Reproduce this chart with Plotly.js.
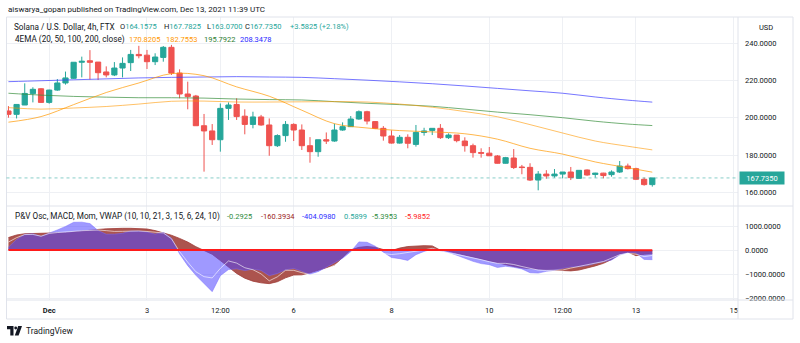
<!DOCTYPE html>
<html><head><meta charset="utf-8">
<script src="https://cdn.plot.ly/plotly-3.0.1.min.js"></script>
<style>html,body{margin:0;padding:0;background:#fff;overflow:hidden}#chart{width:800px;height:343px}</style>
</head><body><div id="chart"></div>
<script>
// ---------- DATA ----------
const times = [
'2021-11-30 04:00','2021-11-30 08:00','2021-11-30 12:00','2021-11-30 16:00','2021-11-30 20:00',
'2021-12-01 00:00','2021-12-01 04:00','2021-12-01 08:00','2021-12-01 12:00','2021-12-01 16:00','2021-12-01 20:00',
'2021-12-02 00:00','2021-12-02 04:00','2021-12-02 08:00','2021-12-02 12:00','2021-12-02 16:00','2021-12-02 20:00',
'2021-12-03 00:00','2021-12-03 04:00','2021-12-03 08:00','2021-12-03 12:00','2021-12-03 16:00','2021-12-03 20:00',
'2021-12-04 00:00','2021-12-04 04:00','2021-12-04 08:00','2021-12-04 12:00','2021-12-04 16:00','2021-12-04 20:00',
'2021-12-05 00:00','2021-12-05 04:00','2021-12-05 08:00','2021-12-05 12:00','2021-12-05 16:00','2021-12-05 20:00',
'2021-12-06 00:00','2021-12-06 04:00','2021-12-06 08:00','2021-12-06 12:00','2021-12-06 16:00','2021-12-06 20:00',
'2021-12-07 00:00','2021-12-07 04:00','2021-12-07 08:00','2021-12-07 12:00','2021-12-07 16:00','2021-12-07 20:00',
'2021-12-08 00:00','2021-12-08 04:00','2021-12-08 08:00','2021-12-08 12:00','2021-12-08 16:00','2021-12-08 20:00',
'2021-12-09 00:00','2021-12-09 04:00','2021-12-09 08:00','2021-12-09 12:00','2021-12-09 16:00','2021-12-09 20:00',
'2021-12-10 00:00','2021-12-10 04:00','2021-12-10 08:00','2021-12-10 12:00','2021-12-10 16:00','2021-12-10 20:00',
'2021-12-11 00:00','2021-12-11 04:00','2021-12-11 08:00','2021-12-11 12:00','2021-12-11 16:00','2021-12-11 20:00',
'2021-12-12 00:00','2021-12-12 04:00','2021-12-12 08:00','2021-12-12 12:00','2021-12-12 16:00','2021-12-12 20:00',
'2021-12-13 00:00','2021-12-13 04:00','2021-12-13 08:00'];

const open = [203.6,201.8,206.8,212.9,215.5,208.2,214.8,218.6,221.1,229.7,
230.5,229.8,224.5,222.9,226.6,229.5,233.9,233.5,230.0,232.3,
237.7,223.9,212.7,211.6,195.7,192.9,188.2,205.0,207.1,200.8,
196.4,200.4,196.1,185.0,190.4,196.4,193.4,185.0,181.8,188.2,
187.5,193.4,195.2,199.3,203.2,197.9,194.3,190.2,186.4,189.5,
185.7,192.1,193.2,194.3,189.3,190.7,187.5,185.0,181.3,181.0,
179.5,175.6,178.4,173.6,173.4,166.6,169.8,168.8,169.8,170.9,
167.5,172.0,169.6,170.3,169.5,170.9,174.1,172.7,167.0,164.1575];
const high = [206.2,207.1,218.4,216.3,215.8,215.0,220.7,224.7,229.7,232.7,
236.2,229.8,227.5,229.8,232.3,236.3,238.5,236.3,234.5,238.4,
239.0,225.9,219.3,212.2,202.0,196.6,207.6,208.2,210.4,204.5,
203.2,201.5,199.6,191.1,198.2,197.0,196.4,189.6,188.2,192.1,
196.8,197.5,200.9,203.9,203.7,198.2,195.5,193.2,190.7,191.1,
196.1,194.6,194.3,196.6,191.6,190.7,189.5,186.1,183.6,184.3,
180.0,179.0,183.2,174.7,175.6,171.4,171.9,172.5,170.9,173.6,
171.8,172.3,170.5,170.5,171.8,176.8,175.4,173.2,167.9,167.7825];
const low = [200.0,199.6,206.8,208.2,208.0,207.5,214.4,217.7,220.7,221.6,
220.5,220.2,221.6,222.3,221.6,225.0,231.8,226.1,228.2,230.0,
222.9,210.4,204.5,195.7,171.1,185.4,181.8,198.8,198.8,191.1,
194.3,195.7,179.6,184.3,187.1,187.5,182.7,175.9,179.1,185.9,
187.1,193.0,195.0,198.9,196.4,193.9,187.7,186.1,186.1,183.6,
184.5,190.4,190.7,188.6,188.6,186.8,181.8,178.6,178.6,179.6,
175.4,175.4,172.5,169.7,166.1,161.1,167.3,167.9,167.5,166.6,
167.5,168.9,167.9,167.5,168.4,170.4,172.3,166.6,163.6,163.07];
const close = [201.8,207.1,213.0,215.2,208.2,214.8,218.6,221.3,229.7,230.2,
229.7,224.1,222.9,226.6,229.1,233.9,233.2,230.0,232.5,237.7,
223.9,212.7,211.3,195.7,192.9,188.2,205.0,206.8,200.6,196.4,
200.4,196.1,185.0,190.4,196.4,193.4,185.0,181.8,188.2,187.5,
193.4,195.2,199.3,203.2,198.2,194.3,190.2,186.4,189.5,186.3,
192.1,192.9,194.3,189.3,190.7,187.7,185.0,181.3,181.0,179.6,
175.6,178.6,173.3,173.3,166.6,169.8,168.8,169.8,170.9,167.9,
171.8,169.3,170.3,169.0,170.9,174.1,172.7,167.0,164.1525,167.735];

const emaTimes = ['2021-11-30 04:00','2021-11-30 20:00','2021-12-01 12:00','2021-12-02 04:00','2021-12-02 20:00',
'2021-12-03 12:00','2021-12-04 04:00','2021-12-04 20:00','2021-12-05 12:00','2021-12-06 04:00','2021-12-06 20:00',
'2021-12-07 12:00','2021-12-08 04:00','2021-12-08 20:00','2021-12-09 12:00','2021-12-10 04:00','2021-12-10 20:00',
'2021-12-11 12:00','2021-12-12 04:00','2021-12-12 20:00','2021-12-13 08:00'];
const ema20  = [197.6,200.6,207.0,213.5,218.6,223.6,222.5,216.5,211.5,204.0,196.8,194.5,193.1,192.4,191.4,188.5,183.6,180.5,176.3,173.2,170.8205];
const ema50  = [205.4,204.6,205.2,206.0,207.3,208.8,208.9,208.4,208.4,208.5,208.6,208.4,207.3,205.6,203.3,200.5,196.3,191.8,187.5,184.7,182.7553];
const ema100 = [213.1,212.1,211.4,211.0,210.7,210.7,210.5,210.0,209.7,209.5,208.6,207.7,207.0,206.1,204.6,203.0,201.6,200.0,198.1,196.6,195.7922];
const ema200 = [219.3,219.8,220.3,220.8,221.3,221.6,221.8,222.0,221.8,221.6,220.9,220.1,219.2,218.2,217.0,215.7,214.4,213.1,211.1,209.4,208.3478];

const oscMacd = [518,626,678,694,701,708,715,722,761,807,
840,857,881,903,903,903,892,875,808,724,
615,483,331,139,-32,-179,-439,-726,-976,-1174,
-1299,-1368,-1401,-1322,-1160,-1042,-1035,-951,-857,-740,
-629,-306,4,111,146,115,18,-26,80,144,
172,181,171,-9,-51,-120,-207,-290,-370,-453,
-533,-611,-688,-747,-781,-810,-822,-838,-860,-870,
-835,-757,-663,-556,-396,-174,-89,-236,-179,-160.3934];
const oscMom = [119,436,651,676,574,690,835,982,1154,1161,
1100,810,658,661,696,792,792,746,664,733,
496,-162,-651,-1056,-1389,-1736,-1070,-816,-786,-857,
-799,-851,-1068,-979,-826,-768,-886,-1020,-903,-729,
-540,-346,-72,338,322,161,-89,-314,-360,-435,
-196,-60,40,-18,-101,-217,-350,-472,-567,-610,
-729,-676,-722,-789,-947,-963,-888,-845,-767,-708,
-694,-650,-561,-482,-417,-208,-107,-122,-393,-404.098];
const oscLine = [331,514,643,648,574,690,726,760,781,803,
817,831,807,774,778,799,792,772,744,710,
469,-67,-506,-906,-1111,-1164,-765,-456,-545,-739,
-821,-996,-1285,-1118,-845,-847,-945,-1028,-949,-799,
-632,-433,-225,-4,14,-39,-147,-189,-155,-108,
-64,3,72,-28,-120,-184,-247,-319,-403,-490,
-556,-556,-604,-688,-771,-837,-851,-857,-835,-753,
-674,-610,-546,-480,-342,-197,-139,-176,-274,-228];
const oscZero = [0,0,0,0,0,0,0,0,0,0, 0,0,0,0,0,0,0,0,0,0,
0,0,0,0,0,0,0,0,0,0, 0,0,0,0,0,0,0,0,0,0,
0,0,0,0,0,0,0,0,0,0, 0,0,0,0,0,0,0,0,0,0,
0,0,0,0,0,0,0,0,0,0, 0,0,0,0,0,0,0,0,0,-6];

const xTickVals = ['2021-12-01 00:00','2021-12-03 00:00','2021-12-04 12:00','2021-12-06 00:00','2021-12-08 00:00','2021-12-10 00:00','2021-12-11 12:00','2021-12-13 00:00','2021-12-15 00:00'];
const xTickText = ['<b>Dec</b>','3','12:00','6','8','10','12:00','13','15'];
const priceTicks = [160,180,200,220,240];
const oscTicks = [-2000,-1000,0,1000];
const oscLegendExtra = ['-0.2925','0.5899','-5.3953','-5.9852'];

// ---------- LAYOUT HELPERS ----------
const W = 800, H = 343;
const px = v => v / W;
const py = v => 1 - v / H;
const FONT = 'Roboto, "Liberation Sans", Arial, sans-serif';
const TXT = '#131722';
const TEAL = '#26a69a', RED = '#ef5350';
const gridC = '#eef0f4', frameC = '#e0e3eb';
const xd = [px(6.5), px(738)];
const xRange = ['2021-11-30 03:03', '2021-12-15 02:04'];
const n = close.length - 1;
const LF = 8.2; // legend label font size
const VF = 7.5; // legend value font size

const traces = [
  {type:'candlestick', x:times, open:open, high:high, low:low, close:close, xaxis:'x', yaxis:'y',
   whiskerwidth:0, hoverinfo:'skip',
   increasing:{line:{color:TEAL, width:1}, fillcolor:TEAL},
   decreasing:{line:{color:RED, width:1}, fillcolor:RED}},
  {type:'scatter', mode:'lines', x:emaTimes, y:ema200, xaxis:'x', yaxis:'y', line:{color:'rgba(60,60,255,0.7)', width:1, shape:'spline'}},
  {type:'scatter', mode:'lines', x:emaTimes, y:ema100, xaxis:'x', yaxis:'y', line:{color:'rgba(56,142,60,0.7)', width:1, shape:'spline'}},
  {type:'scatter', mode:'lines', x:emaTimes, y:ema50, xaxis:'x', yaxis:'y', line:{color:'rgba(255,152,0,0.6)', width:1, shape:'spline'}},
  {type:'scatter', mode:'lines', x:emaTimes, y:ema20, xaxis:'x', yaxis:'y', line:{color:'rgba(255,152,0,0.7)', width:1, shape:'spline'}},
  {type:'scatter', mode:'lines', x:times, y:oscMacd, xaxis:'x2', yaxis:'y2', fill:'tozeroy',
   fillcolor:'rgb(172,84,78)', line:{color:'rgb(160,60,55)', width:0.8}},
  {type:'scatter', mode:'lines', x:times, y:oscMom, xaxis:'x2', yaxis:'y2', fill:'tozeroy',
   fillcolor:'rgba(80,70,255,0.55)', line:{color:'rgba(120,110,255,0.6)', width:0.8}},
  {type:'scatter', mode:'lines', x:times, y:oscLine, xaxis:'x2', yaxis:'y2', line:{color:'rgba(255,255,255,0.75)', width:0.8}},
  {type:'scatter', mode:'lines', x:times, y:oscZero, xaxis:'x2', yaxis:'y2', line:{color:'#ff1a1a', width:2}}
];

function hline(y, x0, x1){ return {type:'line', xref:'paper', yref:'paper', x0:px(x0), x1:px(x1), y0:py(y), y1:py(y), line:{color:frameC, width:1}}; }
function vline(x, y0, y1){ return {type:'line', xref:'paper', yref:'paper', x0:px(x), x1:px(x), y0:py(y0), y1:py(y1), line:{color:frameC, width:1}}; }
function pathPx(pts){ return 'M' + pts.map(p => px(p[0]) + ',' + py(p[1])).join(' L') + ' Z'; }

const shapes = [
  hline(17, 6.5, 793), hline(206, 6.5, 793), hline(300, 6.5, 793), hline(319, 6.5, 793),
  vline(6.5, 17, 319), vline(738, 17, 319), vline(793, 17, 319),
  {type:'line', xref:'paper', yref:'y', x0:xd[0], x1:xd[1], y0:close[n], y1:close[n], line:{color:'rgba(38,166,154,0.55)', width:1, dash:'dot'}},
  // TradingView logo
  {type:'path', xref:'paper', yref:'paper', path:pathPx([[7,326],[13.5,326],[13.5,335.5],[10.3,335.5],[10.3,329.2],[7,329.2]]), fillcolor:TXT, line:{width:0}},
  {type:'circle', xref:'paper', yref:'paper', x0:px(14.3), x1:px(17.1), y0:py(329.4), y1:py(326.6), fillcolor:TXT, line:{width:0}},
  {type:'path', xref:'paper', yref:'paper', path:pathPx([[18.2,326],[22,326],[18.6,335.5],[14.8,335.5]]), fillcolor:TXT, line:{width:0}}
];

function ann(x, y, text, size, extra){
  return Object.assign({xref:'paper', yref:'paper', x:px(x), y:py(y), xanchor:'left', yanchor:'middle',
    text:text, showarrow:false, font:{family:FONT, size:size, color:TXT}}, extra || {});
}
const sp = (c, t) => '<span style="color:' + c + '">' + t + '</span>';
const chg = close[n] - close[n-1];
const pct = chg / close[n-1] * 100;
const sign = v => (v >= 0 ? '+' : '-') + Math.abs(v).toFixed(4);

const annotations = [
  ann(6, 10, 'aiswarya_gopan published on TradingView.com, Dec 13, 2021 11:39 UTC', 8),
  ann(12, 27, 'Solana / U.S. Dollar, 4h, FTX', LF),
  ann(118, 27, 'O' + sp(TEAL, open[n].toFixed(4)), VF),
  ann(162, 27, 'H' + sp(TEAL, high[n].toFixed(4)), VF),
  ann(205, 27, 'L' + sp(TEAL, low[n].toFixed(4)), VF),
  ann(243, 27, 'C' + sp(TEAL, close[n].toFixed(4)), VF),
  ann(288, 27, sp(TEAL, sign(chg) + ' (' + (pct >= 0 ? '+' : '-') + Math.abs(pct).toFixed(2) + '%)'), VF),
  ann(13, 40, '4EMA (20, 50, 100, 200, close)', LF),
  ann(127, 40, sp('#ff9800', ema20[ema20.length-1].toFixed(4)), VF),
  ann(164, 40, sp('#ff9800', ema50[ema50.length-1].toFixed(4)), VF),
  ann(202, 40, sp('#2e7d32', ema100[ema100.length-1].toFixed(4)), VF),
  ann(238, 40, sp('#2a2aff', ema200[ema200.length-1].toFixed(4)), VF),
  ann(12.5, 216, 'P&amp;V Osc, MACD, Mom, VWAP (10, 10, 21, 3, 15, 6, 24, 10)', LF),
  ann(225, 216, sp('#2e8b3c', oscLegendExtra[0]), VF),
  ann(259, 216, sp('#9b1c1c', oscMacd[n].toFixed(4)), VF),
  ann(300, 216, sp('#3030ff', oscMom[n].toFixed(4)), VF),
  ann(342, 216, sp('#26a69a', oscLegendExtra[1]), VF),
  ann(370, 216, sp('#2e8b3c', oscLegendExtra[2]), VF),
  ann(403, 216, sp('#ff1a1a', oscLegendExtra[3]), VF),
  ann(766, 28, 'USD', 7.5, {xanchor:'center'}),
  {xref:'paper', yref:'y', x:px(738.5), y:close[n], xanchor:'left', yanchor:'middle', text:close[n].toFixed(4),
   showarrow:false, bgcolor:TEAL, width:44, height:12, borderpad:0, font:{family:FONT, size:7.5, color:'#ffffff'}},
  ann(24, 331, 'TradingView', 8.5)
];

const layout = {
  width:W, height:H, margin:{l:0, r:0, t:0, b:0},
  paper_bgcolor:'#ffffff', plot_bgcolor:'#ffffff', showlegend:false,
  font:{family:FONT, size:7.5, color:TXT},
  boxgap:0.2, boxgroupgap:0.2,
  xaxis:{domain:xd, anchor:'y', type:'date', range:xRange, rangeslider:{visible:false},
         tickvals:xTickVals, showticklabels:false, showgrid:true, gridcolor:gridC, gridwidth:1,
         zeroline:false, showline:false, ticks:''},
  yaxis:{domain:[py(206), py(17)], anchor:'x', side:'right', range:[152.7, 253.94], tickvals:priceTicks,
         tickformat:'.4f', showgrid:true, gridcolor:gridC, zeroline:false, showline:false, ticks:'',
         ticklabelstandoff:6, tickfont:{family:FONT, size:7.5, color:TXT}},
  xaxis2:{domain:xd, anchor:'y2', type:'date', range:xRange, tickvals:xTickVals, ticktext:xTickText,
          showgrid:true, gridcolor:gridC, zeroline:false, showline:false, ticks:'', ticklabelstandoff:4,
          tickfont:{family:FONT, size:7.5, color:TXT}},
  yaxis2:{domain:[py(300), py(206)], anchor:'x2', side:'right', range:[-2083, 1833], tickvals:oscTicks,
          tickformat:'.4f', showgrid:true, gridcolor:gridC, zeroline:false, showline:false, ticks:'',
          ticklabelstandoff:6, tickfont:{family:FONT, size:7.5, color:TXT}},
  shapes:shapes, annotations:annotations
};

Plotly.newPlot('chart', traces, layout, {staticPlot:true, displayModeBar:false});
</script></body></html>
